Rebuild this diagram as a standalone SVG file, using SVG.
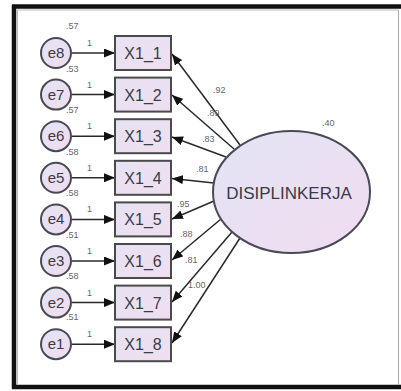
<svg xmlns="http://www.w3.org/2000/svg" width="401" height="391" viewBox="0 0 401 391">
<style>
.box{fill:url(#gbox);stroke:#4a4a4a;stroke-width:2}
.err{fill:url(#gerr);stroke:#4a4a55;stroke-width:2}
.lat{fill:url(#glat);stroke:#4a4a55;stroke-width:2}
.ln{stroke:#2a2a2a;stroke-width:1.5;fill:none;marker-end:url(#ah)}
.t{font-family:"Liberation Sans",Arial,sans-serif;fill:#3a3a48;text-anchor:middle}
.bt{font-size:16px}
.et{font-size:15px}
.lt{font-size:17px}
.s{font-family:"Liberation Sans",Arial,sans-serif;font-size:9px;fill:#666}
</style>
<defs>
<linearGradient id="gbox" x1="0" y1="0" x2="1" y2="1"><stop offset="0" stop-color="#e6e2f2"/><stop offset="1" stop-color="#efdff0"/></linearGradient>
<linearGradient id="gerr" x1="0" y1="0" x2="1" y2="1"><stop offset="0" stop-color="#e4e4f4"/><stop offset="1" stop-color="#efdcf0"/></linearGradient>
<linearGradient id="glat" x1="0" y1="0" x2="1" y2="1"><stop offset="0" stop-color="#e2e4f4"/><stop offset="1" stop-color="#f1dcf0"/></linearGradient>
<marker id="ah" markerUnits="userSpaceOnUse" markerWidth="12" markerHeight="9" refX="11" refY="4.5" orient="auto"><path d="M0,0 L11,4.5 L0,9 z" fill="#111"/></marker>
</defs>
<g id="frame">
<line x1="12" y1="6.5" x2="401" y2="6.5" stroke="#111" stroke-width="4.5"/>
<line x1="14" y1="5" x2="14" y2="389" stroke="#111" stroke-width="4.5"/>
<line x1="12" y1="387" x2="401" y2="387" stroke="#111" stroke-width="4.5"/>
<line x1="17.5" y1="10" x2="17.5" y2="384" stroke="#bbb" stroke-width="1"/>
<line x1="17" y1="10" x2="398" y2="10" stroke="#bbb" stroke-width="1"/>
<line x1="398.5" y1="10" x2="398.5" y2="385" stroke="#aaa" stroke-width="1"/>
</g>
<g id="connectors">
<line class="ln" x1="72" y1="53" x2="115" y2="53"/>
<line class="ln" x1="72" y1="94.6" x2="115" y2="94.6"/>
<line class="ln" x1="72" y1="136.2" x2="115" y2="136.2"/>
<line class="ln" x1="72" y1="177.8" x2="115" y2="177.8"/>
<line class="ln" x1="72" y1="219.4" x2="115" y2="219.4"/>
<line class="ln" x1="72" y1="261" x2="115" y2="261"/>
<line class="ln" x1="72" y1="302.6" x2="115" y2="302.6"/>
<line class="ln" x1="72" y1="344.2" x2="115" y2="344.2"/>
<line class="ln" x1="240" y1="145" x2="172" y2="54"/>
<line class="ln" x1="234" y1="149" x2="172" y2="95"/>
<line class="ln" x1="226" y1="157" x2="172" y2="137"/>
<line class="ln" x1="214" y1="183" x2="172" y2="178.5"/>
<line class="ln" x1="214" y1="201" x2="172" y2="219"/>
<line class="ln" x1="221" y1="219" x2="172" y2="260"/>
<line class="ln" x1="232" y1="232" x2="172" y2="302"/>
<line class="ln" x1="240" y1="238" x2="172" y2="343"/>
<text class="s" x="87" y="46">1</text>
<text class="s" x="87" y="88">1</text>
<text class="s" x="87" y="129">1</text>
<text class="s" x="87" y="171">1</text>
<text class="s" x="87" y="212">1</text>
<text class="s" x="87" y="254">1</text>
<text class="s" x="87" y="296">1</text>
<text class="s" x="87" y="337">1</text>
<text class="s" x="213" y="93">.92</text>
<text class="s" x="207" y="116">.89</text>
<text class="s" x="202" y="142">.83</text>
<text class="s" x="196" y="172">.81</text>
<text class="s" x="177" y="207">.95</text>
<text class="s" x="180" y="237">.88</text>
<text class="s" x="185" y="263">.81</text>
<text class="s" x="188" y="288">1.00</text>
</g>
<g id="e8"><circle class="err" cx="56" cy="53" r="15"/><text class="t et" x="56" y="58">e8</text><text class="s" x="66" y="29">.57</text></g>
<g id="e7"><circle class="err" cx="56" cy="94.6" r="15"/><text class="t et" x="56" y="99.6">e7</text><text class="s" x="66" y="72">.53</text></g>
<g id="e6"><circle class="err" cx="56" cy="136.2" r="15"/><text class="t et" x="56" y="141.2">e6</text><text class="s" x="66" y="113">.57</text></g>
<g id="e5"><circle class="err" cx="56" cy="177.8" r="15"/><text class="t et" x="56" y="182.8">e5</text><text class="s" x="66" y="155">.58</text></g>
<g id="e4"><circle class="err" cx="56" cy="219.4" r="15"/><text class="t et" x="56" y="224.4">e4</text><text class="s" x="66" y="196">.58</text></g>
<g id="e3"><circle class="err" cx="56" cy="261" r="15"/><text class="t et" x="56" y="266">e3</text><text class="s" x="66" y="238">.51</text></g>
<g id="e2"><circle class="err" cx="56" cy="302.6" r="15"/><text class="t et" x="56" y="307.6">e2</text><text class="s" x="66" y="279">.58</text></g>
<g id="e1"><circle class="err" cx="56" cy="344.2" r="15"/><text class="t et" x="56" y="349.2">e1</text><text class="s" x="66" y="320">.51</text></g>
<g id="X1_1"><rect class="box" x="115" y="36" width="56" height="34"/><text class="t bt" x="143" y="59">X1_1</text></g>
<g id="X1_2"><rect class="box" x="115" y="77.6" width="56" height="34"/><text class="t bt" x="143" y="100.6">X1_2</text></g>
<g id="X1_3"><rect class="box" x="115" y="119.2" width="56" height="34"/><text class="t bt" x="143" y="142.2">X1_3</text></g>
<g id="X1_4"><rect class="box" x="115" y="160.8" width="56" height="34"/><text class="t bt" x="143" y="183.8">X1_4</text></g>
<g id="X1_5"><rect class="box" x="115" y="202.4" width="56" height="34"/><text class="t bt" x="143" y="225.4">X1_5</text></g>
<g id="X1_6"><rect class="box" x="115" y="244" width="56" height="34"/><text class="t bt" x="143" y="267">X1_6</text></g>
<g id="X1_7"><rect class="box" x="115" y="285.6" width="56" height="34"/><text class="t bt" x="143" y="308.6">X1_7</text></g>
<g id="X1_8"><rect class="box" x="115" y="327.2" width="56" height="34"/><text class="t bt" x="143" y="350.2">X1_8</text></g>
<g id="DISIPLINKERJA"><ellipse class="lat" cx="291.5" cy="192" rx="78.5" ry="61"/><text class="t lt" x="289" y="199">DISIPLINKERJA</text><text class="s" x="322" y="126">.40</text></g>
</svg>
